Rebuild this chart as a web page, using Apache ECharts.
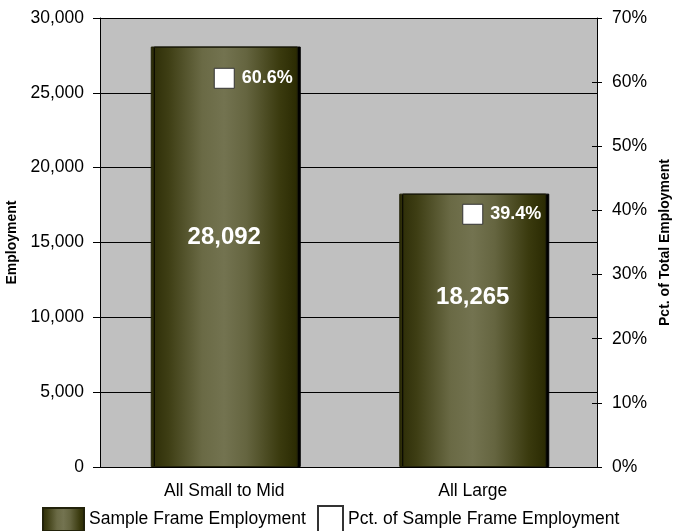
<!DOCTYPE html>
<html><head><meta charset="utf-8">
<script src="https://cdn.jsdelivr.net/npm/echarts@6/dist/echarts.min.js"></script>
<style>html,body{margin:0;padding:0;background:#fff}#c{width:674px;height:531px}</style>
</head><body><div id="c"></div>
<script>
const categories = ['All Small to Mid', 'All Large'];
const employment = [28092, 18265];
const pctEmployment = [60.6, 39.4];
const leftTicks = [0, 5000, 10000, 15000, 20000, 25000, 30000];
const rightTicks = [0, 10, 20, 30, 40, 50, 60, 70];
const barName = 'Sample Frame Employment';
const pctName = 'Pct. of Sample Frame Employment';

const labelPos = [['50%', '45.5%'], ['50%', '38%']];
const FONT = 'Liberation Sans';
const FS = 17.5;
const barGrad = {type:'linear', x:0, y:0, x2:1, y2:0, colorStops:[
  {offset:0, color:'#2c2c06'}, {offset:0.12, color:'#3e3e14'}, {offset:0.35, color:'#6a6a45'},
  {offset:0.5, color:'#737350'}, {offset:0.65, color:'#656540'}, {offset:0.88, color:'#3a3a0e'}, {offset:1, color:'#2a2a02'}]};

const chart = echarts.init(document.getElementById('c'));
chart.setOption({
  animation:false,
  textStyle:{fontFamily:FONT},
  grid:{left:100, right:77, top:18, bottom:64, show:true, backgroundColor:'#c0c0c0', borderWidth:0, containLabel:false, outerBoundsMode:'none'},
  legend:[{
    data:[{name:barName, icon:'rect'}], left:37, top:502, itemWidth:41, itemHeight:23,
    textStyle:{fontSize:FS, color:'#000', fontFamily:FONT}
  },{
    data:[{name:pctName, icon:'rect'}], left:312, top:500, itemWidth:25, itemHeight:26,
    textStyle:{fontSize:FS, color:'#000', fontFamily:FONT}
  }],
  xAxis:{type:'category', data:categories,
    axisLine:{lineStyle:{color:'#000', width:1}},
    axisTick:{inside:true, length:6, lineStyle:{color:'#000'}},
    axisLabel:{fontSize:FS, color:'#000', margin:15, fontFamily:FONT}},
  yAxis:[{type:'value', min:leftTicks[0], max:leftTicks[leftTicks.length-1], interval:leftTicks[1]-leftTicks[0], name:'Employment', nameLocation:'middle', nameGap:76, nameRotate:90,
    nameTextStyle:{fontSize:14, fontWeight:'bold', color:'#000', fontFamily:FONT},
    axisLine:{show:true, lineStyle:{color:'#000'}},
    axisTick:{show:true, length:7, lineStyle:{color:'#000'}},
    splitLine:{show:true, lineStyle:{color:'#000', width:1}},
    axisLabel:{fontSize:FS, color:'#000', margin:16, fontFamily:FONT, formatter:v=>v.toLocaleString('en-US')}},
   {type:'value', min:rightTicks[0], max:rightTicks[rightTicks.length-1], interval:rightTicks[1]-rightTicks[0], position:'right', name:'Pct. of Total Employment', nameLocation:'middle', nameGap:61, nameRotate:90,
    nameTextStyle:{fontSize:14, fontWeight:'bold', color:'#000', fontFamily:FONT},
    axisLine:{show:true, lineStyle:{color:'#000'}},
    axisTick:{show:true, length:5, lineStyle:{color:'#000'}},
    splitLine:{show:false},
    axisLabel:{fontSize:FS, color:'#000', margin:15, fontFamily:FONT, formatter:v=>v+'%'}},
   {type:'value', min:rightTicks[0], max:rightTicks[rightTicks.length-1], interval:rightTicks[1]-rightTicks[0], position:'right', offset:0,
    axisLine:{show:false}, axisTick:{show:true, inside:true, length:5, lineStyle:{color:'#000'}},
    splitLine:{show:false}, axisLabel:{show:false}}],
  series:[{
    name:barName, type:'bar', barWidth:147, yAxisIndex:0,
    data: employment.map((v,i)=>({value:v, label:{position:labelPos[i]}})),
    itemStyle:{color:barGrad, borderColor:'#22220a', borderWidth:1, shadowColor:'#000', shadowOffsetX:3, shadowOffsetY:0, shadowBlur:0},
    label:{show:true, color:'#fff', fontWeight:'bold', fontSize:24, fontFamily:FONT, align:'center', verticalAlign:'middle',
      formatter:p=>p.value.toLocaleString('en-US')}
  },{
    name:pctName, type:'line', yAxisIndex:1, data:pctEmployment,
    symbol:'rect', symbolSize:20, lineStyle:{width:0, opacity:0},
    itemStyle:{color:'#fff', borderColor:'#333', borderWidth:1},
    label:{show:true, position:'right', distance:7, color:'#fff', fontWeight:'bold', fontSize:18, fontFamily:FONT, formatter:p=>p.value+'%'},
    z:5
  }]
});
</script></body></html>
